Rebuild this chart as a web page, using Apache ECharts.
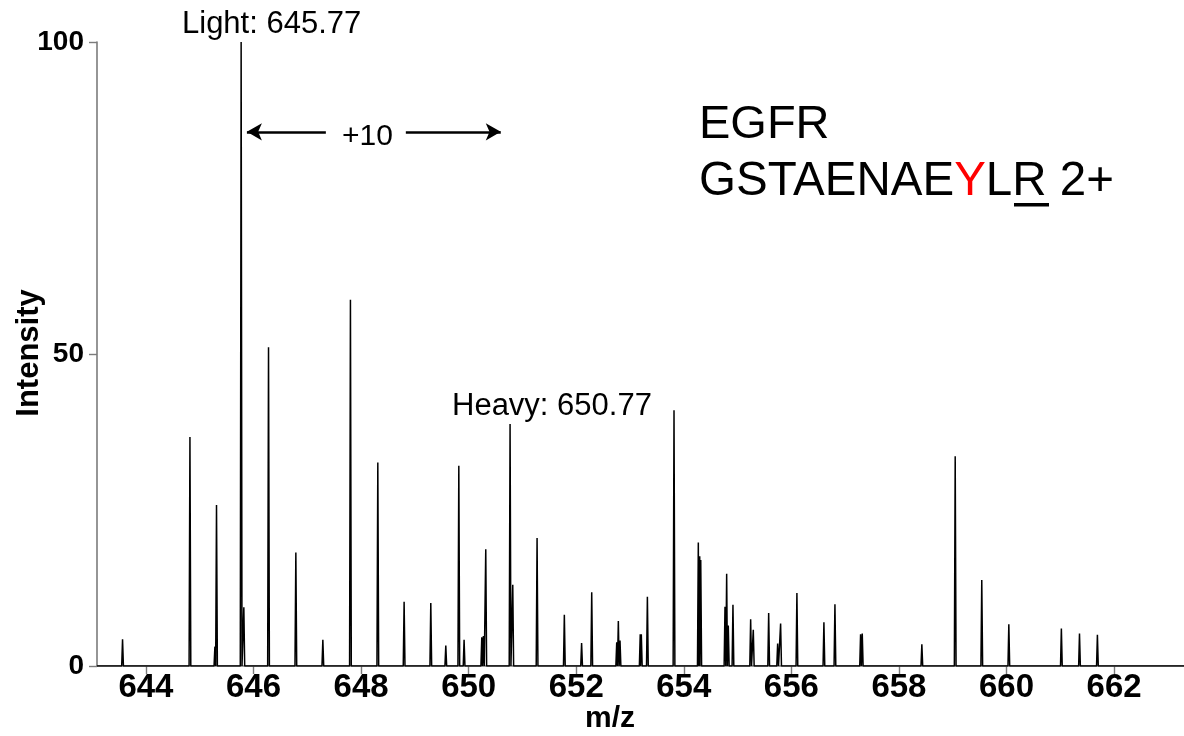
<!DOCTYPE html>
<html>
<head>
<meta charset="utf-8">
<title>EGFR GSTAENAEYLR 2+</title>
<script src="https://cdn.jsdelivr.net/npm/echarts@6/dist/echarts.min.js"></script>
<style>
  html, body { margin: 0; padding: 0; background: #fff; }
  #chart { width: 1184px; height: 736px; }
</style>
</head>
<body>
<div id="chart"></div>
<script>
// Centroid m/z of each peak in the spectrum
const peakMz = [
  643.565, 644.818, 645.282, 645.312, 645.77, 645.82, 646.279, 646.787, 647.289, 647.802,
  648.311, 648.80, 649.296, 649.575, 649.817, 649.915, 650.244, 650.274, 650.318, 650.77,
  650.82, 651.272, 651.779, 652.10, 652.288, 652.753, 652.783, 652.814, 653.19, 653.21,
  653.323, 653.818, 654.27, 654.296, 654.315, 654.766, 654.797, 654.827, 654.914, 655.243,
  655.292, 655.578, 655.745, 655.80, 656.103, 656.605, 656.81, 657.287, 657.318, 658.426,
  659.046, 659.54, 660.043, 661.02, 661.357, 661.69
];
// Relative intensity of each peak (%)
const peakIntensity = [
  4.3, 36.7, 3.1, 25.8, 100, 9.4, 51.1, 18.2, 4.2, 58.7,
  32.6, 10.3, 10.1, 3.3, 32.1, 4.2, 4.6, 4.8, 18.7, 38.8,
  13.0, 20.5, 8.2, 3.7, 11.8, 3.8, 7.2, 4.1, 5.1, 5.1,
  11.1, 41.0, 19.8, 17.6, 17.0, 9.5, 14.8, 6.5, 9.8, 7.5,
  5.8, 8.5, 3.6, 6.8, 11.7, 7.0, 9.9, 5.1, 5.2, 3.5,
  33.6, 13.8, 6.7, 6.0, 5.2, 5.0
];
// Axis tick labels
const xTicks = [644, 646, 648, 650, 652, 654, 656, 658, 660, 662];
const yTicks = [0, 50, 100];

const xMin = 643.09, xMax = 663.3;
const halfWidth = 0.016; // profile half-width of each spike at the baseline

// Profile line: baseline, then each spike rises from zero to its apex and back
const profile = [[xMin, 0]];
const pts = [];
peakMz.forEach((mz, i) => {
  pts.push([mz - halfWidth, 0], [mz, peakIntensity[i]], [mz + halfWidth, 0]);
});
pts.sort((a, b) => a[0] - b[0]);
pts.forEach(p => profile.push(p));
profile.push([xMax, 0]);

const chart = echarts.init(document.getElementById('chart'), null, { renderer: 'canvas' });
const axisGray = '#7b7b7b';
const sans = '"Liberation Sans", Arial, sans-serif';
const arrowY = 85.6;

chart.setOption({
  backgroundColor: '#ffffff',
  animation: false,
  grid: { left: 97, right: 0, top: 42, bottom: 70, containLabel: false },
  xAxis: {
    type: 'value',
    min: xMin,
    max: xMax,
    axisLine: { show: true, onZero: false, lineStyle: { color: axisGray, width: 1.6 } },
    axisTick: { show: true, customValues: xTicks, length: 8, lineStyle: { color: axisGray, width: 1.4 } },
    axisLabel: {
      customValues: xTicks,
      margin: 5,
      color: '#000',
      fontFamily: sans,
      fontWeight: 'bold',
      fontSize: 33
    },
    splitLine: { show: false }
  },
  yAxis: {
    type: 'value',
    min: yTicks[0],
    max: yTicks[yTicks.length - 1],
    interval: yTicks[1] - yTicks[0],
    axisLine: { show: true, lineStyle: { color: axisGray, width: 1.6 } },
    axisTick: { show: true, length: 8, lineStyle: { color: axisGray, width: 1.4 } },
    axisLabel: {
      margin: 13,
      color: '#000',
      fontFamily: sans,
      fontWeight: 'bold',
      fontSize: 28
    },
    splitLine: { show: false }
  },
  series: [{
    type: 'line',
    data: profile,
    showSymbol: false,
    symbol: 'none',
    lineStyle: { color: '#000', width: 1.5 },
    silent: true,
    markLine: {
      silent: true,
      animation: false,
      symbolSize: [13, 15],
      lineStyle: { color: '#000', width: 2.6, type: 'solid' },
      label: { show: false },
      data: [
        [{ coord: [645.877, arrowY], symbol: 'arrow' }, { coord: [647.345, arrowY], symbol: 'none' }],
        [{ coord: [648.832, arrowY], symbol: 'none' }, { coord: [650.597, arrowY], symbol: 'arrow' }]
      ]
    }
  }],
  graphic: [
    { type: 'text', left: 182, top: 9,
      style: { text: 'Light: 645.77', font: '31px ' + sans, fill: '#000' } },
    { type: 'text', left: 452, top: 391,
      style: { text: 'Heavy: 650.77', font: '31px ' + sans, fill: '#000' } },
    { type: 'text', left: 342, top: 122,
      style: { text: '+10', font: '30px ' + sans, fill: '#000' } },
    { type: 'text', left: 699, top: 102,
      style: { text: 'EGFR', font: '47px ' + sans, fill: '#000' } },
    { type: 'text', left: 699, top: 158,
      style: {
        text: '{a|GSTAENAE}{r|Y}{a|LR 2+}',
        rich: {
          a: { fontFamily: sans, fontSize: 47.5, fill: '#000', color: '#000' },
          r: { fontFamily: sans, fontSize: 47.5, fill: '#ff0000', color: '#ff0000' }
        }
      } },
    { type: 'rect', shape: { x: 1014, y: 203, width: 35, height: 3.5 }, style: { fill: '#000' } },
    { type: 'text', x: 610, y: 719,
      style: { text: 'm/z', font: 'bold 30px ' + sans, fill: '#000', align: 'center', verticalAlign: 'middle' } },
    { type: 'text', x: 29, y: 353, rotation: Math.PI / 2,
      style: { text: 'Intensity', font: 'bold 31px ' + sans, fill: '#000',
               align: 'center', verticalAlign: 'middle' } }
  ]
});
</script>
</body>
</html>
